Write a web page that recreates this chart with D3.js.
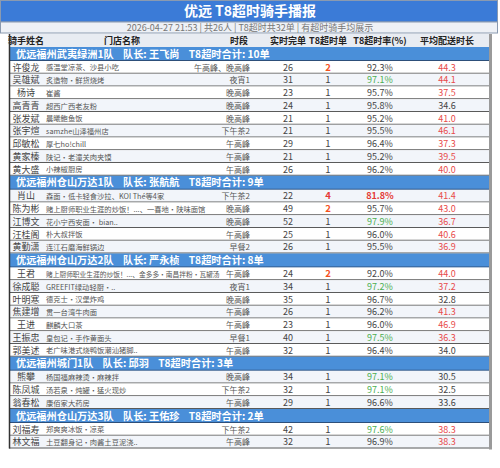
<!DOCTYPE html>
<html>
<head>
<meta charset="utf-8">
<script src="https://cdn.jsdelivr.net/npm/d3@7"></script>
<style>
  body { margin: 0; background: #fff; }
  svg text { font-family: "Noto Sans CJK SC", "Noto Sans", sans-serif; }
</style>
</head>
<body>
<div id="chart"></div>
<script>
// ---- data ----
const titleText = "优远 T8超时骑手播报";
const subtitleText = "2026-04-27 21:53 | 共26人 | T8超时共32单 | 有超时骑手均展示";
const headers = ["骑手姓名", "门店名称", "时段", "实时完单", "T8超时单", "T8超时率(%)", "平均配送时长"];

const teams = ["优远福州武夷绿洲1队", "优远福州仓山万达1队", "优远福州仓山万达2队", "优远福州城门1队", "优远福州仓山万达3队"];
const captains = ["王飞尚", "张航航", "严永桢", "邱羽", "王佑珍"];
const teamTotals = [10, 9, 8, 3, 2];

const riderTeam = [0,0,0,0,0,0,0,0,0, 1,1,1,1,1, 2,2,2,2,2,2,2, 3,3,3, 4,4];
const riders = ["许俊龙","吴雄斌","杨诗","高青青","张发斌","张宇煊","邱敏松","黄家榛","黄大盛",
  "肖山","陈为彬","江博文","汪桂阁","黄勤潇",
  "王君","徐成聪","叶明寒","焦建增","王进","王振忠","郭美述",
  "熊攀","陈凤城","翁春松",
  "刘福寿","林文福"];
const stores = ["感温堂凉茶、沙县小吃","炙造物·鲜货烧烤","崔酱","超西广西老友粉","晨曦鲍鱼饭","samzhe山泽福州店","厚七ho!chill","陕记·老潼关肉夹馍","小辣椒厨房",
  "森面·低卡轻食沙拉、KOI Thé等4家","赌上厨师职业生涯的炒饭！...、一喜地·陕味面馆","花小宁西安面· bian..","朴大叔拌饭","连江石磨海鲜锅边",
  "赌上厨师职业生涯的炒饭！...、金多多·南昌拌粉·瓦罐汤","GREEFIT绿动轻厨·..","德克士·汉堡炸鸡","贯一台湾牛肉面","麒麟大口茶","皇包记·手作黄面头","老广味港式烧鸭饭潮汕猪脚..",
  "杨国福麻辣烫·麻辣拌","汤若泉·炖罐·猛火现炒","康佰家大药房",
  "郑爽爽冰饭·凉菜","土豆翻身记·肉酱土豆泥浇.."];
const slots = ["午高峰、晚高峰","夜宵1","晚高峰","晚高峰","晚高峰","下午茶2","午高峰","午高峰","午高峰",
  "下午茶2","晚高峰","晚高峰","午高峰","早餐2",
  "午高峰","夜宵1","晚高峰","午高峰","午高峰","早餐1","午高峰",
  "晚高峰","下午茶2","午高峰",
  "下午茶2","午高峰"];
const orders = [26,31,23,24,21,21,29,21,26, 22,49,52,25,26, 24,34,35,26,23,40,32, 34,32,29, 42,32];
const t8Counts = [2,1,1,1,1,1,1,1,1, 4,2,1,1,1, 2,1,1,1,1,1,1, 1,1,1, 1,1];
const t8Rates = [92.3,97.1,95.7,95.8,95.2,95.5,96.4,95.2,96.2, 81.8,95.7,97.9,96.0,95.5, 92.0,97.2,96.7,96.2,96.0,97.5,96.4, 97.1,97.1,96.6, 97.6,96.9];
const avgTimes = [44.3,44.1,37.5,34.6,41.0,46.1,37.3,39.5,40.0, 41.4,43.0,36.7,40.6,36.9, 44.0,37.2,32.8,41.3,46.9,36.3,34.0, 30.5,32.5,33.6, 38.3,38.3];

// ---- layout ----
const width = 500, height = 468;
const tableLeft = 9, tableRight = 489;
const headerTop = 34, headerH = 13;
const groupH = 14, rowH = 12.75;
const storeX = 46, slotRight = 250, storeFont = 7.3;

// flatten into table rows
const rows = [];
teams.forEach((team, t) => {
  rows.push({type: "group", t});
  riderTeam.forEach((rt, i) => { if (rt === t) rows.push({type: "data", i}); });
});
let yAcc = headerTop + headerH, dataCount = 0;
rows.forEach(r => {
  r.y = yAcc;
  r.h = r.type === "group" ? groupH : rowH;
  if (r.type === "data") r.alt = dataCount++ % 2 === 1;
  yAcc += r.h;
});
const tableBottom = yAcc;

// column scale: centres of each column
const colX = d3.scaleOrdinal()
  .domain(headers)
  .range([26, 122, 239, 288, 328, 380, 447]);

const svg = d3.select("#chart").append("svg")
  .attr("width", width).attr("height", height)
  .attr("viewBox", `0 0 ${width} ${height}`);

// title bar
svg.append("rect")
  .attr("x", 0.5).attr("y", 0.5).attr("width", 497).attr("height", 21.5)
  .attr("fill", "#3b7bd7").attr("stroke", "#8a9ab0");
svg.append("text")
  .attr("x", 250).attr("y", 16).attr("text-anchor", "middle")
  .attr("fill", "#fff").attr("font-size", 14).attr("font-weight", "bold")
  .text(titleText);

// subtitle bar
svg.append("rect")
  .attr("x", 0.5).attr("y", 22).attr("width", 497).attr("height", 11)
  .attr("fill", "#eef1f6").attr("stroke", "#8a9ab0");
svg.append("text")
  .attr("x", 250).attr("y", 30.8).attr("text-anchor", "middle")
  .attr("fill", "#777").attr("font-size", 9)
  .text(subtitleText);

// table shadow (right)
svg.append("rect")
  .attr("x", tableRight).attr("y", headerTop).attr("width", 3).attr("height", tableBottom - headerTop + 1)
  .attr("fill", "#9a9a9a");

// header
svg.append("rect")
  .attr("x", tableLeft).attr("y", headerTop).attr("width", tableRight - tableLeft).attr("height", headerH)
  .attr("fill", "#e8ecf2");
svg.append("g").selectAll("text")
  .data(headers)
  .join("text")
    .attr("x", d => colX(d))
    .attr("y", headerTop + 9.8)
    .attr("text-anchor", "middle")
    .attr("font-size", 9).attr("font-weight", "bold").attr("fill", "#222")
    .text(d => d);

// rows
const rowG = svg.append("g").selectAll("g")
  .data(rows)
  .join("g")
    .attr("transform", d => `translate(0, ${d.y})`);

rowG.append("rect")
  .attr("x", tableLeft).attr("width", tableRight - tableLeft)
  .attr("height", d => d.h)
  .attr("fill", d => d.type === "group" ? "#4a8fd9" : (d.alt ? "#f2f5fa" : "#fff"));

// separator lines
rowG.append("line")
  .attr("x1", tableLeft).attr("x2", tableRight)
  .attr("y1", d => d.h - 0.5).attr("y2", d => d.h - 0.5)
  .attr("stroke", d => d.type === "group" ? "#2d4f7a" : "#5a5a5a")
  .attr("stroke-width", 1);

// group rows
const groups = rowG.filter(d => d.type === "group");
groups.append("text")
  .attr("x", 16).attr("y", 10.6)
  .attr("fill", "#fff").attr("font-size", 10.2).attr("font-weight", "bold")
  .attr("xml:space", "preserve")
  .text(d => `${teams[d.t]}    队长: ${captains[d.t]}    T8超时合计: ${teamTotals[d.t]}单`);

// data rows
const dataRows = rowG.filter(d => d.type === "data");
const ty = 9.6;

dataRows.append("text")
  .attr("x", colX("骑手姓名")).attr("y", ty).attr("text-anchor", "middle")
  .attr("font-size", 9).attr("fill", "#444")
  .text(d => riders[d.i]);

const slotText = dataRows.append("text")
  .attr("x", slotRight).attr("y", ty).attr("text-anchor", "end")
  .attr("font-size", 8).attr("fill", "#555")
  .text(d => slots[d.i]);

// store names: shrink long ones so they stop before the time slot
const storeText = dataRows.append("text")
  .attr("x", storeX).attr("y", ty - 0.3)
  .attr("font-size", storeFont).attr("fill", "#555")
  .text(d => stores[d.i]);
storeText.each(function(d, k) {
  const slotW = slotText.nodes()[k].getComputedTextLength();
  const maxW = slotRight - slotW - 6 - storeX;
  const w = this.getComputedTextLength();
  if (w > maxW) d3.select(this).attr("font-size", storeFont * maxW / w);
});

dataRows.append("text")
  .attr("x", colX("实时完单")).attr("y", ty).attr("text-anchor", "middle")
  .attr("font-size", 9).attr("fill", "#444")
  .text(d => orders[d.i]);

const t8Color = v => v >= 4 ? "#e53935" : v >= 2 ? "#f4511e" : "#444";
dataRows.append("text")
  .attr("x", colX("T8超时单")).attr("y", ty).attr("text-anchor", "middle")
  .attr("font-size", 9.5)
  .attr("font-weight", d => t8Counts[d.i] >= 2 ? "bold" : "normal")
  .attr("fill", d => t8Color(t8Counts[d.i]))
  .text(d => t8Counts[d.i]);

const rateColor = v => v < 90 ? "#e53935" : v >= 97 ? "#4caf50" : "#444";
dataRows.append("text")
  .attr("x", colX("T8超时率(%)")).attr("y", ty).attr("text-anchor", "middle")
  .attr("font-size", 9)
  .attr("font-weight", d => t8Rates[d.i] < 90 ? "bold" : "normal")
  .attr("fill", d => rateColor(t8Rates[d.i]))
  .text(d => d3.format(".1f")(t8Rates[d.i]) + "%");

dataRows.append("text")
  .attr("x", colX("平均配送时长")).attr("y", ty).attr("text-anchor", "middle")
  .attr("font-size", 9)
  .attr("fill", d => avgTimes[d.i] > 35 ? "#e84a4a" : "#444")
  .text(d => d3.format(".1f")(avgTimes[d.i]));

// left border
svg.append("line")
  .attr("x1", tableLeft + 0.5).attr("x2", tableLeft + 0.5)
  .attr("y1", headerTop).attr("y2", tableBottom)
  .attr("stroke", "#333").attr("stroke-width", 1.5);
</script>
</body>
</html>
